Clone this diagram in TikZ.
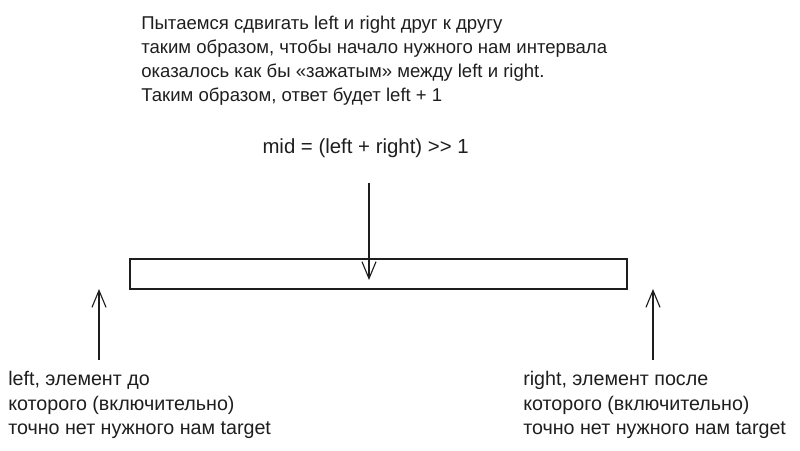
\documentclass[tikz,border=0pt]{standalone}
\usepackage{fontspec}
\setmainfont{Liberation Sans}
\usetikzlibrary{positioning, arrows.meta}
\definecolor{ink}{HTML}{1E1E1E}

\begin{document}
\begin{tikzpicture}[
  every node/.style={font=\fontsize{13.2}{17}\selectfont, text=ink, inner sep=0pt},
  note/.style={
    align=left,
    anchor=north west,
  },
  sidenote/.style={
    note,
    font=\fontsize{14}{17.5}\selectfont,
  },
  band/.style={
    draw=ink,
    line width=0.9pt,
    minimum width=12.425cm,
    minimum height=0.75cm,
  },
  pointer/.style={
    -{Straight Barb[length=12pt, width=10pt]},
    line width=0.8pt,
    draw=ink,
  },
]
  \useasboundingbox (0,0) rectangle (20,11.25);

  \node[note] (idea) at (3.525,10.85) {Пытаемся сдвигать left и right друг к другу\\
    таким образом, чтобы начало нужного нам интервала\\
    оказалось как бы «зажатым» между left и right.\\
    Таким образом, ответ будет left + 1};
  \node[font=\fontsize{14.5}{17}\selectfont] (midformula) at (9.14,7.55) {mid = (left + right) >{}> 1};
  \node[band] (range) at (9.4625,4.4) {};
  \node[sidenote] (leftnote) at (0.2,1.97) {left, элемент до\\
    которого (включительно)\\
    точно нет нужного нам target};
  \node[sidenote] (rightnote) at (13.075,1.97) {right, элемент после\\
    которого (включительно)\\
    точно нет нужного нам target};

  \coordinate (midfrom) at (9.225,6.675);
  \coordinate (midto) at (9.225,4.25);
  \coordinate (leftfrom) at (2.475,2.25);
  \coordinate (leftto) at (2.475,4.025);
  \coordinate (rightfrom) at (16.325,2.25);
  \coordinate (rightto) at (16.325,4.025);

  \draw[pointer] (midfrom) -- (midto);
  \draw[pointer] (leftfrom) -- (leftto);
  \draw[pointer] (rightfrom) -- (rightto);
\end{tikzpicture}
\end{document}
